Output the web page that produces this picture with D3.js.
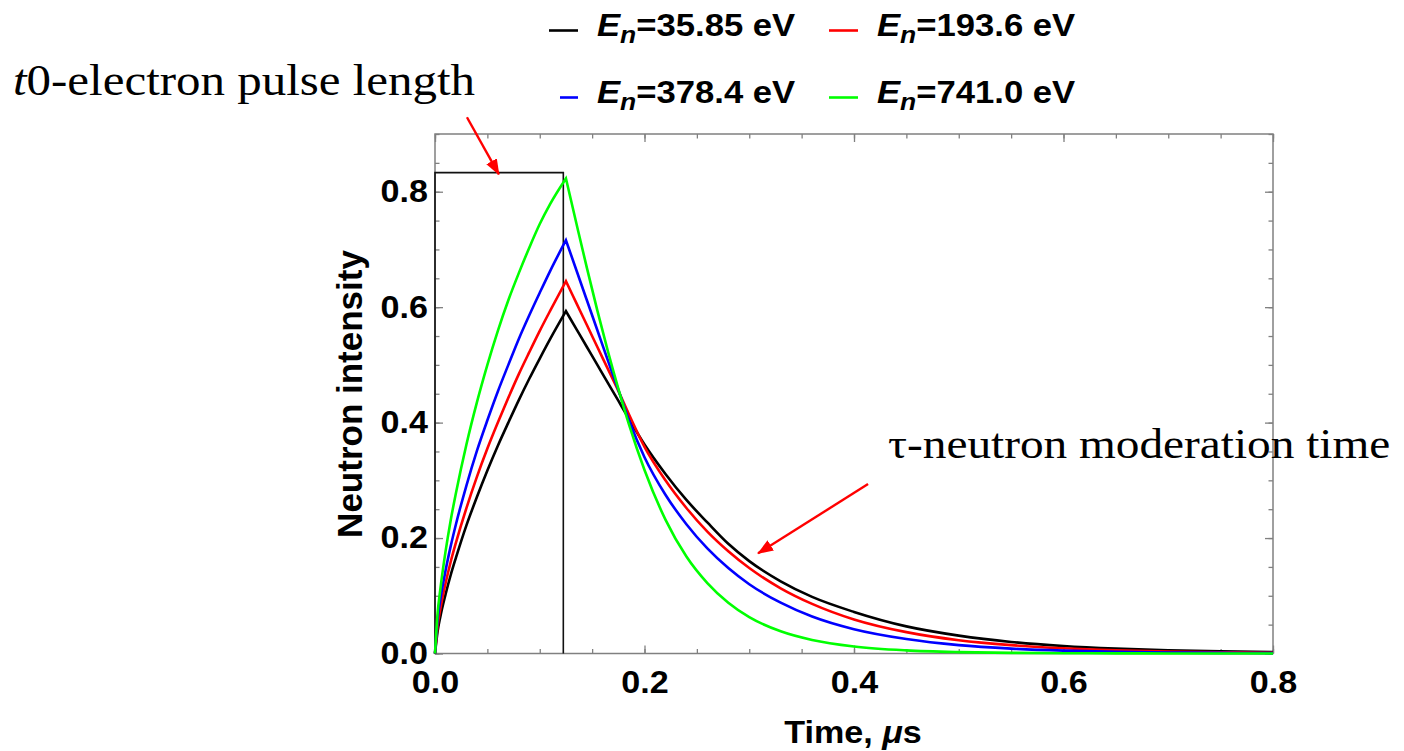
<!DOCTYPE html>
<html>
<head>
<meta charset="utf-8">
<script src="https://cdn.jsdelivr.net/npm/d3@7"></script>
<style>
  body { margin: 0; background: #fff; }
  svg { display: block; }
</style>
</head>
<body>
<div id="chart"></div>
<script>
// Values (time in microseconds)
const time = [0, 0.0025, 0.005, 0.01, 0.015, 0.02, 0.03, 0.04, 0.05, 0.06,
  0.07, 0.08, 0.09, 0.1, 0.11, 0.125, 0.135, 0.145, 0.155, 0.165,
  0.175, 0.185, 0.2, 0.22, 0.24, 0.26, 0.28, 0.3, 0.33, 0.36,
  0.4, 0.45, 0.5, 0.55, 0.6, 0.65, 0.7, 0.75, 0.8];

const intensity35 = [0, 0.0385, 0.063, 0.102, 0.136, 0.166, 0.222, 0.271, 0.317, 0.36,
  0.4, 0.439, 0.476, 0.511, 0.545, 0.593, 0.562, 0.531, 0.5, 0.469,
  0.438, 0.407, 0.362, 0.311, 0.266, 0.227, 0.19, 0.16, 0.125, 0.098,
  0.072, 0.047, 0.031, 0.02, 0.013, 0.0085, 0.0055, 0.0036, 0.0024];

const intensity194 = [0, 0.048, 0.076, 0.121, 0.159, 0.192, 0.252, 0.306, 0.355, 0.4,
  0.443, 0.484, 0.522, 0.559, 0.594, 0.645, 0.607, 0.569, 0.531, 0.493,
  0.455, 0.415, 0.358, 0.3, 0.252, 0.211, 0.177, 0.148, 0.113, 0.086,
  0.059, 0.037, 0.023, 0.0145, 0.009, 0.0056, 0.0035, 0.0022, 0.0014];

const intensity378 = [0, 0.059, 0.092, 0.143, 0.186, 0.224, 0.291, 0.351, 0.404, 0.454,
  0.5, 0.545, 0.586, 0.625, 0.663, 0.716, 0.664, 0.612, 0.56, 0.508,
  0.457, 0.405, 0.34, 0.275, 0.224, 0.182, 0.148, 0.12, 0.088, 0.064,
  0.042, 0.025, 0.0145, 0.0085, 0.005, 0.003, 0.0018, 0.0011, 0.0007];

const intensity741 = [0, 0.07, 0.11, 0.176, 0.231, 0.278, 0.362, 0.435, 0.5, 0.559,
  0.612, 0.659, 0.703, 0.744, 0.779, 0.823, 0.745, 0.668, 0.594, 0.524,
  0.459, 0.398, 0.318, 0.232, 0.168, 0.122, 0.088, 0.063, 0.0385, 0.0235,
  0.0122, 0.0054, 0.0024, 0.0011, 0.0005, 0.0002, 0.0001, 0, 0];

const energies = ["35.85", "193.6", "378.4", "741.0"];
const colors = ["#000000", "#ff0000", "#0000ff", "#00ff00"];
const xTicks = [0, 0.2, 0.4, 0.6, 0.8];
const yTicks = [0, 0.2, 0.4, 0.6, 0.8];

const peakTime = 0.125;
const pulseLength = 0.1225;
const pulseHeight = 0.833;

// the picture is a little wider than tall, so text gets stretched sideways
const S = 1.1;
const sans = "'Liberation Sans', Arial, sans-serif";
const serif = "'Liberation Serif', 'Times New Roman', serif";

const width = 1404, height = 751;

const svg = d3.select("#chart").append("svg")
    .attr("width", width)
    .attr("height", height);

svg.append("rect").attr("width", width).attr("height", height).attr("fill", "#fff");

const x = d3.scaleLinear().domain([0, 0.8]).range([435, 1273]);
const y = d3.scaleLinear().domain([0, 0.9]).range([653.5, 134]);

function stretch(sel) {
    sel.each(function() {
        const t = d3.select(this);
        const tx = +t.attr("x") || 0, ty = +t.attr("y") || 0;
        t.attr("x", null).attr("y", null)
            .attr("transform", `translate(${tx},${ty}) scale(${S},1)`);
    });
}

// frame with inward ticks on all four sides
const minor = d3.range(0, 0.9001, 0.05);
const frameColor = "#808080";

function addAxis(axis, tx, ty, labels) {
    const g = svg.append("g").attr("transform", `translate(${tx},${ty})`).call(axis);
    g.select(".domain").remove();
    g.selectAll("line").attr("stroke", frameColor).attr("stroke-width", 1.3);
    if (!labels) g.selectAll("text").remove();
    return g;
}

addAxis(d3.axisBottom(x).tickValues(minor.filter(d => d <= 0.8)).tickSize(-4.5).tickFormat(""), 0, y(0));
addAxis(d3.axisTop(x).tickValues(minor.filter(d => d <= 0.8)).tickSize(-4.5).tickFormat(""), 0, y(0.9));
addAxis(d3.axisLeft(y).tickValues(minor).tickSize(-4.5).tickFormat(""), x(0), 0);
addAxis(d3.axisRight(y).tickValues(minor).tickSize(-4.5).tickFormat(""), x(0.8), 0);
addAxis(d3.axisTop(x).tickValues(xTicks).tickSize(-8).tickFormat(""), 0, y(0.9));
addAxis(d3.axisRight(y).tickValues(yTicks).tickSize(-8).tickFormat(""), x(0.8), 0);

const xAxis = addAxis(d3.axisBottom(x).tickValues(xTicks).tickSize(-8).tickSizeOuter(0)
    .tickPadding(17).tickFormat(d3.format(".1f")), 0, y(0), true);
const yAxis = addAxis(d3.axisLeft(y).tickValues(yTicks).tickSize(-8).tickSizeOuter(0)
    .tickPadding(7).tickFormat(d3.format(".1f")), x(0), 0, true);

[xAxis, yAxis].forEach(g => {
    g.attr("font-size", 31).attr("font-family", sans).attr("font-weight", "bold");
    g.selectAll("text").attr("fill", "#000");
    stretch(g.selectAll("text"));
});

svg.append("rect")
    .attr("x", x(0)).attr("y", y(0.9))
    .attr("width", x(0.8) - x(0)).attr("height", y(0) - y(0.9))
    .attr("fill", "none").attr("stroke", frameColor).attr("stroke-width", 1.5);

// electron pulse window
svg.append("path")
    .attr("d", `M${x(0)},${y(0)}V${y(pulseHeight)}H${x(pulseLength)}V${y(0)}`)
    .attr("fill", "none").attr("stroke", "#111").attr("stroke-width", 1.6);

// curves: rise and decay joined with a sharp corner at the peak
const line = d3.line().x(d => x(d.t)).y(d => y(d.v)).curve(d3.curveMonotoneX);
const seriesValues = [intensity35, intensity194, intensity378, intensity741];

seriesValues.forEach((vals, i) => {
    const pts = time.map((t, k) => ({ t: t, v: vals[k] }));
    const rise = pts.filter(d => d.t <= peakTime);
    const decay = pts.filter(d => d.t >= peakTime);
    const d = line(rise) + line(decay).replace(/^M/, "L");
    svg.append("path")
        .attr("d", d)
        .attr("fill", "none")
        .attr("stroke", colors[i])
        .attr("stroke-width", 2.6)
        .attr("stroke-linejoin", "miter");
});

// axis titles
const xTitle = svg.append("text")
    .attr("x", 853).attr("y", 743)
    .attr("text-anchor", "middle")
    .attr("font-family", sans).attr("font-weight", "bold").attr("font-size", 31);
xTitle.append("tspan").text("Time, ");
xTitle.append("tspan").attr("font-style", "italic").text("\u03bc");
xTitle.append("tspan").text("s");
stretch(xTitle);

svg.append("text")
    .attr("transform", "translate(362,394) rotate(-90)")
    .attr("text-anchor", "middle")
    .attr("font-family", sans).attr("font-weight", "bold").attr("font-size", 35)
    .text("Neutron intensity");

// legend
const legendRows = [36, 103];
const legendCols = [597, 877];
const swatchStart = [549, 829, 560, 829];

energies.forEach((e, i) => {
    const row = Math.floor(i / 2), col = i % 2;
    const by = legendRows[row], tx = legendCols[col];
    svg.append("line")
        .attr("x1", swatchStart[i]).attr("x2", tx - 19)
        .attr("y1", by - 5.5).attr("y2", by - 5.5)
        .attr("stroke", colors[i]).attr("stroke-width", 2.6);
    const t = svg.append("text")
        .attr("x", tx).attr("y", by)
        .attr("font-family", sans).attr("font-weight", "bold").attr("font-size", 31.5);
    t.append("tspan").attr("font-style", "italic").text("E");
    t.append("tspan").attr("font-style", "italic").attr("font-size", 24).attr("dy", 7).text("n");
    t.append("tspan").attr("dy", -7).text(`=${e} eV`);
    stretch(t);
});

// annotations
svg.append("defs").append("marker")
    .attr("id", "head")
    .attr("viewBox", "0 0 16 12")
    .attr("refX", 15).attr("refY", 6)
    .attr("markerWidth", 16).attr("markerHeight", 12)
    .attr("markerUnits", "userSpaceOnUse")
    .attr("orient", "auto")
    .append("path").attr("d", "M0,0L16,6L0,12Z").attr("fill", "#ff0000");

const arrows = [
    { from: [0.0305, 0.929], to: [0.061, 0.83] },
    { from: [0.4134, 0.2935], to: [0.3084, 0.1735] }
];
arrows.forEach(a => {
    svg.append("line")
        .attr("x1", x(a.from[0])).attr("y1", y(a.from[1]))
        .attr("x2", x(a.to[0])).attr("y2", y(a.to[1]))
        .attr("stroke", "#ff0000").attr("stroke-width", 2.4)
        .attr("marker-end", "url(#head)");
});

const note1 = svg.append("text")
    .attr("x", 13).attr("y", 95)
    .attr("font-family", serif).attr("font-size", 44.5);
note1.append("tspan").attr("font-style", "italic").text("t");
note1.append("tspan").text("0-electron pulse length");
stretch(note1);

const note2 = svg.append("text")
    .attr("x", 888).attr("y", 458)
    .attr("font-family", serif).attr("font-size", 43)
    .text("\u03c4-neutron moderation time");
stretch(note2);
</script>
</body>
</html>
